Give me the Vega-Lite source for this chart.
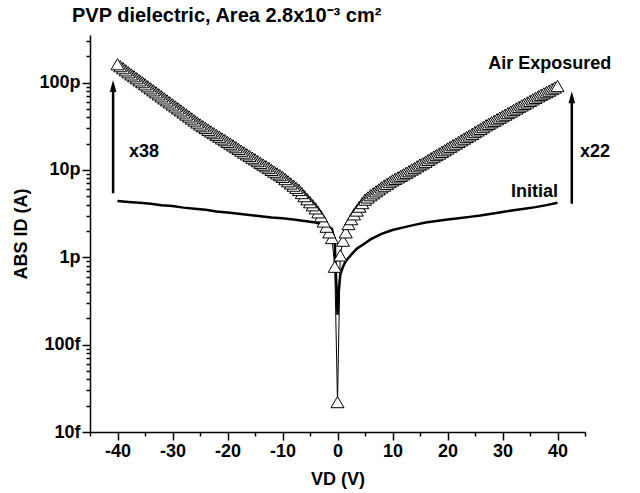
{
  "$schema": "https://vega.github.io/schema/vega-lite/v6.json",
  "width": 495,
  "height": 397,
  "autosize": {"type": "none"},
  "padding": {"left": 90, "top": 35, "right": 55, "bottom": 61},
  "background": "white",
  "config": {
    "view": {"stroke": null},
    "font": "Liberation Sans",
    "axis": {
      "grid": false,
      "domainColor": "black",
      "tickColor": "black",
      "labelColor": "black",
      "titleColor": "black",
      "labelFont": "Liberation Sans",
      "titleFont": "Liberation Sans",
      "labelFontWeight": "bold",
      "labelFontSize": 18,
      "titleFontSize": 18,
      "titleFontWeight": "bold",
      "domainWidth": 1.5,
      "tickWidth": 1.5
    }
  },
  "title": {
    "text": "PVP dielectric, Area 2.8x10⁻³ cm²",
    "anchor": "start",
    "frame": "group",
    "dx": -18,
    "offset": 6,
    "fontSize": 20,
    "fontWeight": "bold",
    "font": "Liberation Sans",
    "color": "black"
  },
  "resolve": {"axis": {"x": "independent"}},
  "datasets": {
    "initial": [
      {"x": -40, "y": 4.4e-12}, {"x": -38, "y": 4.3e-12}, {"x": -36, "y": 4.2e-12}, {"x": -34, "y": 4.1e-12},
      {"x": -32, "y": 3.95e-12}, {"x": -30, "y": 3.85e-12}, {"x": -28, "y": 3.7e-12}, {"x": -26, "y": 3.6e-12},
      {"x": -24, "y": 3.5e-12}, {"x": -22, "y": 3.35e-12}, {"x": -20, "y": 3.25e-12}, {"x": -18, "y": 3.15e-12},
      {"x": -16, "y": 3.05e-12}, {"x": -14, "y": 2.95e-12}, {"x": -12, "y": 2.85e-12}, {"x": -10, "y": 2.8e-12},
      {"x": -8, "y": 2.7e-12}, {"x": -6, "y": 2.6e-12}, {"x": -4, "y": 2.5e-12}, {"x": -3, "y": 2.4e-12},
      {"x": -2, "y": 2.3e-12}, {"x": -1, "y": 2.1e-12}, {"x": -0.5, "y": 1.5e-12}, {"x": 0, "y": 2.2e-13},
      {"x": 0.2, "y": 4.0e-13}, {"x": 0.5, "y": 6.3e-13}, {"x": 1, "y": 7.8e-13}, {"x": 1.5, "y": 9.0e-13},
      {"x": 2.5, "y": 1.07e-12}, {"x": 3.5, "y": 1.25e-12}, {"x": 5, "y": 1.45e-12}, {"x": 6, "y": 1.6e-12},
      {"x": 8, "y": 1.85e-12}, {"x": 10, "y": 2.05e-12}, {"x": 12, "y": 2.2e-12}, {"x": 14, "y": 2.35e-12},
      {"x": 16, "y": 2.5e-12}, {"x": 18, "y": 2.6e-12}, {"x": 20, "y": 2.7e-12}, {"x": 22, "y": 2.8e-12},
      {"x": 24, "y": 2.9e-12}, {"x": 26, "y": 3.0e-12}, {"x": 28, "y": 3.15e-12}, {"x": 30, "y": 3.3e-12},
      {"x": 32, "y": 3.45e-12}, {"x": 34, "y": 3.6e-12}, {"x": 36, "y": 3.75e-12}, {"x": 38, "y": 3.95e-12},
      {"x": 40, "y": 4.2e-12}
    ],
    "air": [
      {"x": 0, "y": 2.2e-14},
      {"x": -0.5, "y": 7.8e-13}, {"x": -1, "y": 1.66e-12}, {"x": -1.5, "y": 1.93e-12}, {"x": -2, "y": 2.24e-12},
      {"x": -2.5, "y": 2.57e-12}, {"x": -3, "y": 2.95e-12}, {"x": -3.5, "y": 3.27e-12}, {"x": -4, "y": 3.63e-12},
      {"x": -4.5, "y": 3.94e-12}, {"x": -5, "y": 4.27e-12}, {"x": -5.5, "y": 4.62e-12}, {"x": -6, "y": 5.01e-12},
      {"x": -6.5, "y": 5.43e-12}, {"x": -7, "y": 5.89e-12}, {"x": -7.5, "y": 6.24e-12}, {"x": -8, "y": 6.61e-12},
      {"x": -8.5, "y": 7.0e-12}, {"x": -9, "y": 7.41e-12}, {"x": -9.5, "y": 7.85e-12}, {"x": -10, "y": 8.32e-12},
      {"x": -10.5, "y": 8.71e-12}, {"x": -11, "y": 9.12e-12}, {"x": -11.5, "y": 9.55e-12}, {"x": -12, "y": 1.0e-11},
      {"x": -12.5, "y": 1.05e-11}, {"x": -13, "y": 1.1e-11}, {"x": -13.5, "y": 1.15e-11}, {"x": -14, "y": 1.2e-11},
      {"x": -14.5, "y": 1.26e-11}, {"x": -15, "y": 1.32e-11}, {"x": -15.5, "y": 1.38e-11}, {"x": -16, "y": 1.45e-11},
      {"x": -16.5, "y": 1.51e-11}, {"x": -17, "y": 1.58e-11}, {"x": -17.5, "y": 1.66e-11}, {"x": -18, "y": 1.74e-11},
      {"x": -18.5, "y": 1.82e-11}, {"x": -19, "y": 1.91e-11}, {"x": -19.5, "y": 2.0e-11}, {"x": -20, "y": 2.09e-11},
      {"x": -20.5, "y": 2.19e-11}, {"x": -21, "y": 2.29e-11}, {"x": -21.5, "y": 2.4e-11}, {"x": -22, "y": 2.51e-11},
      {"x": -22.5, "y": 2.63e-11}, {"x": -23, "y": 2.75e-11}, {"x": -23.5, "y": 2.88e-11}, {"x": -24, "y": 3.02e-11},
      {"x": -24.5, "y": 3.16e-11}, {"x": -25, "y": 3.31e-11}, {"x": -25.5, "y": 3.49e-11}, {"x": -26, "y": 3.68e-11},
      {"x": -26.5, "y": 3.88e-11}, {"x": -27, "y": 4.09e-11}, {"x": -27.5, "y": 4.31e-11}, {"x": -28, "y": 4.55e-11},
      {"x": -28.5, "y": 4.8e-11}, {"x": -29, "y": 5.06e-11}, {"x": -29.5, "y": 5.33e-11}, {"x": -30, "y": 5.62e-11},
      {"x": -30.5, "y": 5.93e-11}, {"x": -31, "y": 6.25e-11}, {"x": -31.5, "y": 6.59e-11}, {"x": -32, "y": 6.95e-11},
      {"x": -32.5, "y": 7.33e-11}, {"x": -33, "y": 7.73e-11}, {"x": -33.5, "y": 8.15e-11}, {"x": -34, "y": 8.59e-11},
      {"x": -34.5, "y": 9.06e-11}, {"x": -35, "y": 9.55e-11}, {"x": -35.5, "y": 1.01e-10}, {"x": -36, "y": 1.06e-10},
      {"x": -36.5, "y": 1.12e-10}, {"x": -37, "y": 1.18e-10}, {"x": -37.5, "y": 1.24e-10}, {"x": -38, "y": 1.31e-10},
      {"x": -38.5, "y": 1.38e-10}, {"x": -39, "y": 1.46e-10}, {"x": -39.5, "y": 1.54e-10}, {"x": -40, "y": 1.62e-10},
      {"x": 0.5, "y": 1.05e-12}, {"x": 1, "y": 1.55e-12}, {"x": 1.5, "y": 1.93e-12}, {"x": 2, "y": 2.4e-12},
      {"x": 2.5, "y": 2.73e-12}, {"x": 3, "y": 3.1e-12}, {"x": 3.5, "y": 3.43e-12}, {"x": 4, "y": 3.8e-12},
      {"x": 4.5, "y": 4.17e-12}, {"x": 5, "y": 4.57e-12}, {"x": 5.5, "y": 4.84e-12}, {"x": 6, "y": 5.13e-12},
      {"x": 6.5, "y": 5.4e-12}, {"x": 7, "y": 5.69e-12}, {"x": 7.5, "y": 5.99e-12}, {"x": 8, "y": 6.31e-12},
      {"x": 8.5, "y": 6.61e-12}, {"x": 9, "y": 6.92e-12}, {"x": 9.5, "y": 7.25e-12}, {"x": 10, "y": 7.59e-12},
      {"x": 10.5, "y": 7.9e-12}, {"x": 11, "y": 8.22e-12}, {"x": 11.5, "y": 8.56e-12}, {"x": 12, "y": 8.91e-12},
      {"x": 12.5, "y": 9.28e-12}, {"x": 13, "y": 9.66e-12}, {"x": 13.5, "y": 1.01e-11}, {"x": 14, "y": 1.05e-11},
      {"x": 14.5, "y": 1.1e-11}, {"x": 15, "y": 1.15e-11}, {"x": 15.5, "y": 1.19e-11}, {"x": 16, "y": 1.24e-11},
      {"x": 16.5, "y": 1.3e-11}, {"x": 17, "y": 1.36e-11}, {"x": 17.5, "y": 1.42e-11}, {"x": 18, "y": 1.48e-11},
      {"x": 18.5, "y": 1.54e-11}, {"x": 19, "y": 1.61e-11}, {"x": 19.5, "y": 1.68e-11}, {"x": 20, "y": 1.76e-11},
      {"x": 20.5, "y": 1.84e-11}, {"x": 21, "y": 1.92e-11}, {"x": 21.5, "y": 2.0e-11}, {"x": 22, "y": 2.09e-11},
      {"x": 22.5, "y": 2.18e-11}, {"x": 23, "y": 2.28e-11}, {"x": 23.5, "y": 2.38e-11}, {"x": 24, "y": 2.48e-11},
      {"x": 24.5, "y": 2.59e-11}, {"x": 25, "y": 2.71e-11}, {"x": 25.5, "y": 2.83e-11}, {"x": 26, "y": 2.95e-11},
      {"x": 26.5, "y": 3.09e-11}, {"x": 27, "y": 3.24e-11}, {"x": 27.5, "y": 3.37e-11}, {"x": 28, "y": 3.51e-11},
      {"x": 28.5, "y": 3.65e-11}, {"x": 29, "y": 3.8e-11}, {"x": 29.5, "y": 3.96e-11}, {"x": 30, "y": 4.12e-11},
      {"x": 30.5, "y": 4.29e-11}, {"x": 31, "y": 4.47e-11}, {"x": 31.5, "y": 4.65e-11}, {"x": 32, "y": 4.84e-11},
      {"x": 32.5, "y": 5.04e-11}, {"x": 33, "y": 5.25e-11}, {"x": 33.5, "y": 5.47e-11}, {"x": 34, "y": 5.69e-11},
      {"x": 34.5, "y": 5.92e-11}, {"x": 35, "y": 6.17e-11}, {"x": 35.5, "y": 6.42e-11}, {"x": 36, "y": 6.68e-11},
      {"x": 36.5, "y": 6.95e-11}, {"x": 37, "y": 7.24e-11}, {"x": 37.5, "y": 7.5e-11}, {"x": 38, "y": 7.76e-11},
      {"x": 38.5, "y": 8.08e-11}, {"x": 39, "y": 8.41e-11}, {"x": 39.5, "y": 8.76e-11}, {"x": 40, "y": 9.12e-11}
    ],
    "arrows": [
      {"x": -40.8, "y": 5.4e-12, "y2": 9.1e-11},
      {"x": 42.6, "y": 4.1e-12, "y2": 6.8e-11}
    ],
    "labels": [
      {"x": 38.6, "y": 1.63e-10, "text": "Air Exposured"},
      {"x": 35.8, "y": 5.6e-12, "text": "Initial"},
      {"x": 46.8, "y": 1.6e-11, "text": "x22"},
      {"x": -35.2, "y": 1.6e-11, "text": "x38"}
    ]
  },
  "layer": [
    {
      "data": {"name": "initial"},
      "mark": {"type": "line", "color": "black", "strokeWidth": 2.5},
      "encoding": {
        "x": {
          "field": "x", "type": "quantitative",
          "scale": {"domain": [-45, 45], "nice": false, "zero": false},
          "axis": {
            "orient": "bottom",
            "title": "VD (V)",
            "values": [-40, -30, -20, -10, 0, 10, 20, 30, 40],
            "labelExpr": "'' + datum.value",
            "tickSize": 8,
            "labelPadding": 2,
            "labelFlush": false,
            "labelOverlap": false,
            "titlePadding": 10
          }
        },
        "y": {
          "field": "y", "type": "quantitative",
          "scale": {"type": "log", "domain": [1e-14, 3.5e-10], "nice": false},
          "axis": {
            "title": "ABS ID (A)",
            "values": [1e-14, 2e-14, 3e-14, 4e-14, 5e-14, 6e-14, 7e-14, 8e-14, 9e-14,
                       1e-13, 2e-13, 3e-13, 4e-13, 5e-13, 6e-13, 7e-13, 8e-13, 9e-13,
                       1e-12, 2e-12, 3e-12, 4e-12, 5e-12, 6e-12, 7e-12, 8e-12, 9e-12,
                       1e-11, 2e-11, 3e-11, 4e-11, 5e-11, 6e-11, 7e-11, 8e-11, 9e-11,
                       1e-10, 2e-10, 3e-10],
            "labelExpr": "datum.value == 1e-14 ? '10f' : datum.value == 1e-13 ? '100f' : datum.value == 1e-12 ? '1p' : datum.value == 1e-11 ? '10p' : datum.value == 1e-10 ? '100p' : ''",
            "tickSize": {"condition": {"test": "indexof([1e-14, 1e-13, 1e-12, 1e-11, 1e-10], datum.value) >= 0", "value": 8}, "value": 4},
            "labelPadding": 2,
            "labelFlush": false,
            "labelOverlap": false,
            "titlePadding": 8
          }
        }
      }
    },
    {
      "data": {"name": "air"},
      "mark": {"type": "line", "color": "black", "strokeWidth": 1},
      "encoding": {
        "x": {
          "field": "x", "type": "quantitative",
          "axis": {
            "orient": "bottom",
            "title": null,
            "values": [-45, -35, -25, -15, -5, 5, 15, 25, 35, 45],
            "tickSize": 4,
            "labels": false,
            "domain": false
          }
        },
        "y": {"field": "y", "type": "quantitative"}
      }
    },
    {
      "data": {"name": "air"},
      "mark": {"type": "point", "shape": "triangle-up", "filled": true, "fill": "white", "stroke": "black", "strokeWidth": 1, "size": 169, "opacity": 1},
      "encoding": {
        "x": {"field": "x", "type": "quantitative", "axis": null},
        "y": {"field": "y", "type": "quantitative"}
      }
    },
    {
      "data": {"name": "arrows"},
      "mark": {"type": "rule", "color": "black", "strokeWidth": 2.5, "clip": false},
      "encoding": {
        "x": {"field": "x", "type": "quantitative", "axis": null},
        "y": {"field": "y", "type": "quantitative"},
        "y2": {"field": "y2"}
      }
    },
    {
      "data": {"name": "arrows"},
      "mark": {"type": "point", "shape": "M-0.55,1L0,-1L0.55,1Z", "filled": true, "fill": "black", "stroke": null, "size": 144, "opacity": 1, "clip": false},
      "encoding": {
        "x": {"field": "x", "type": "quantitative", "axis": null},
        "y": {"field": "y2", "type": "quantitative"}
      }
    },
    {
      "data": {"name": "labels"},
      "mark": {"type": "text", "font": "Liberation Sans", "fontSize": 18, "fontWeight": "bold", "color": "black", "align": "center", "baseline": "middle", "clip": false},
      "encoding": {
        "x": {"field": "x", "type": "quantitative", "axis": null},
        "y": {"field": "y", "type": "quantitative"},
        "text": {"field": "text"}
      }
    }
  ]
}
